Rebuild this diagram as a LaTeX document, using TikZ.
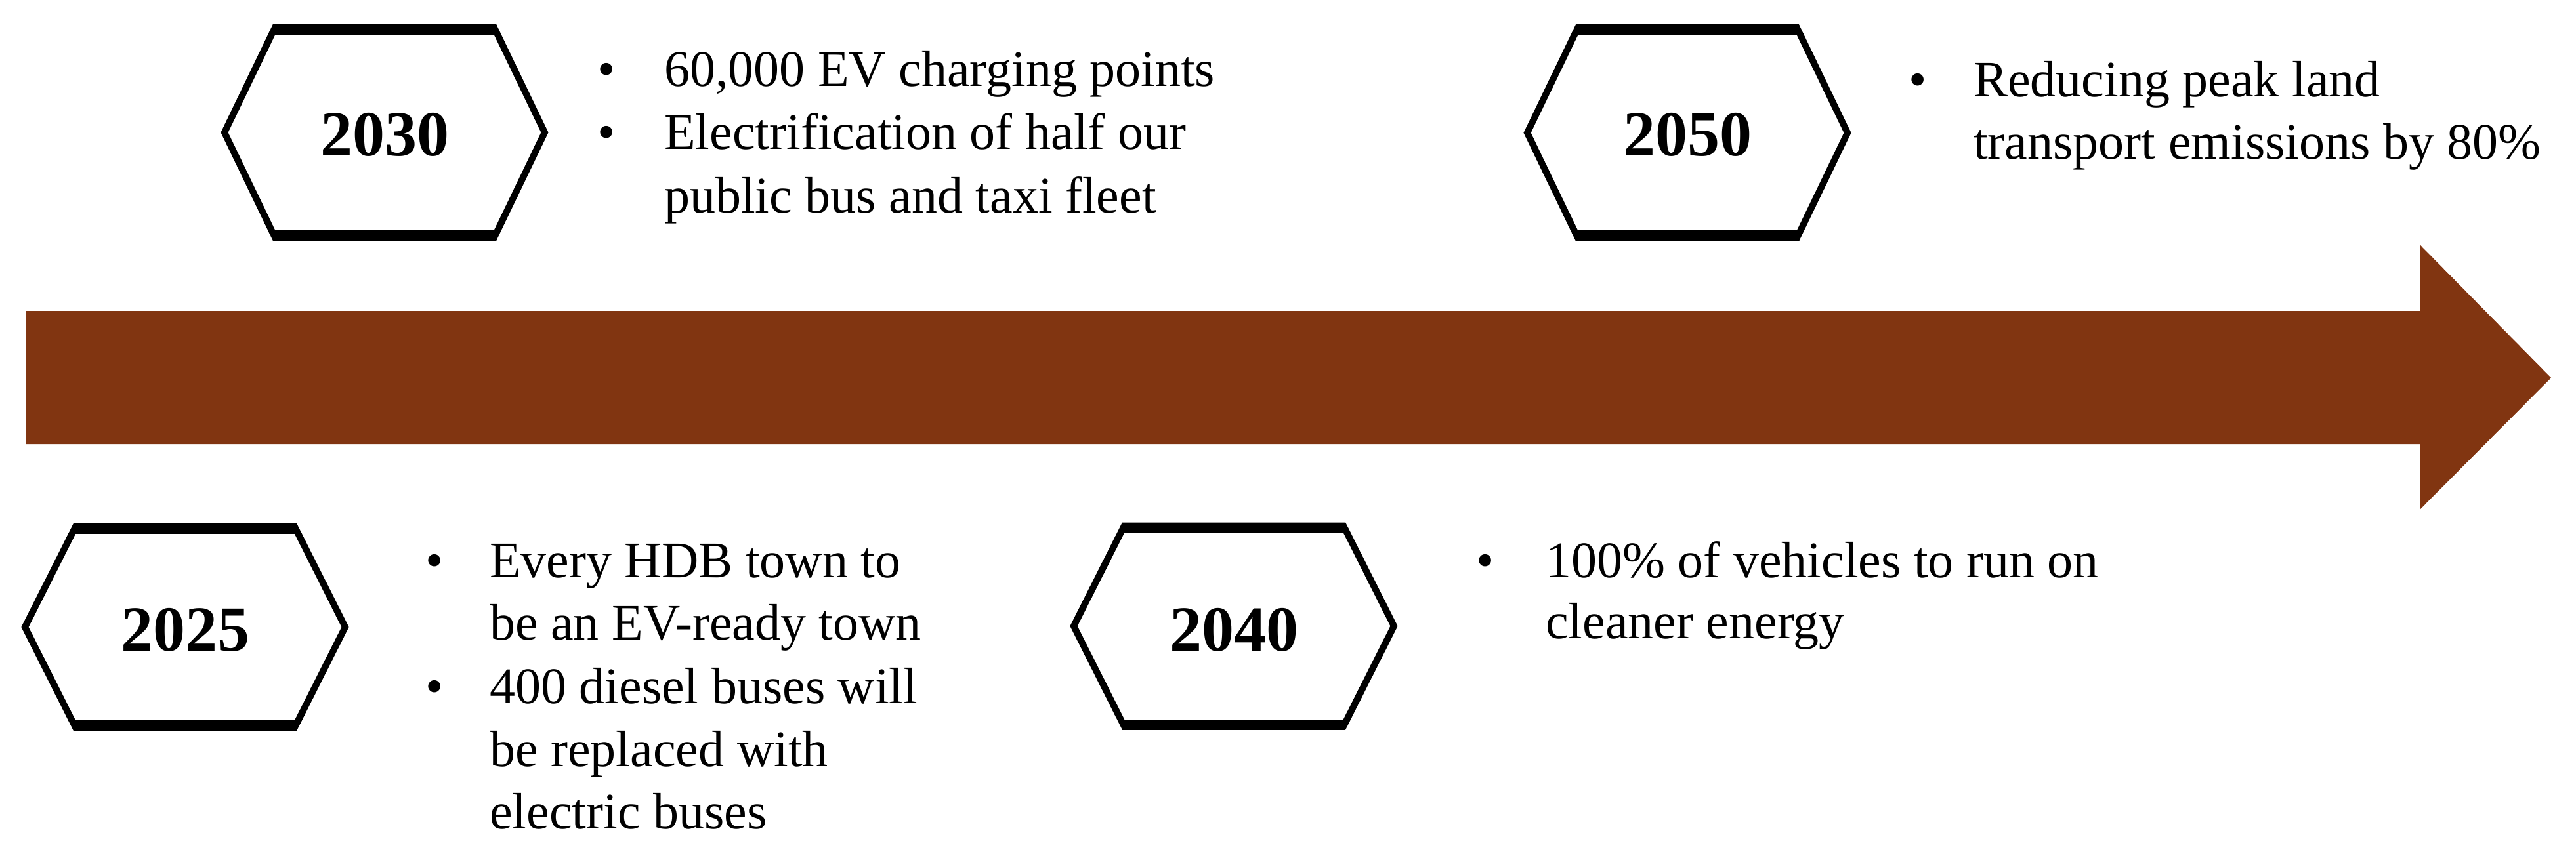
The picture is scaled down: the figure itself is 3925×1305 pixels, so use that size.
\documentclass[tikz,border=0pt]{standalone}
\usepackage{fontspec}
\setmainfont{Liberation Serif}
\definecolor{arrowbrown}{RGB}{129,53,17}
\tikzset{
  hexline/.style={draw=black, line width=10pt, line join=miter, fill=white},
  pics/hexa/.style={code={
    \draw[hexline] (-244,0) -- (-167,{-#1+5}) -- (167,{-#1+5}) -- (244,0)
      -- (167,{#1-5}) -- (-167,{#1-5}) -- cycle;
    \fill[black] (-170,-#1) rectangle (170,{-#1+16});
    \fill[black] (-170,#1) rectangle (170,{#1-16});
  }},
  year/.style={anchor=base, inner sep=0pt, font=\fontsize{98}{110}\selectfont\bfseries},
  txt/.style={anchor=base west, inner sep=0pt, font=\fontsize{78}{94}\selectfont},
  bul/.style={anchor=base, inner sep=0pt, font=\fontsize{78}{94}\selectfont}
}
\begin{document}
\begin{tikzpicture}[x=1pt, y=-1pt]
\useasboundingbox (0,0) rectangle (3925,1305);
% timeline arrow
\fill[arrowbrown] (40,474) -- (3687,474) -- (3687,373) -- (3887,576)
  -- (3687,777) -- (3687,677) -- (40,677) -- cycle;
% hexagons
\pic at (586,202) {hexa=165};
\pic at (2571,202.5) {hexa=165};
\pic at (282,956) {hexa=158};
\pic at (1880,954.5) {hexa=158};
% years
\node[year] (y2030) at (586,238) {2030};
\node[year] (y2050) at (2571,238) {2050};
\node[year] (y2025) at (282,992) {2025};
\node[year] (y2040) at (1880,992) {2040};
% 2030 block
\node[bul] (b30a) at (924,132) {•};
\node[txt] (t30a) at (1012,132) {60,000 EV charging points};
\node[bul] (b30b) at (924,228) {•};
\node[txt] (t30b) at (1012,228) {Electrification of half our};
\node[txt] (t30c) at (1012,325) {public bus and taxi fleet};
% 2050 block
\node[bul] (b50a) at (2922,148) {•};
\node[txt] (t50a) at (3007,148) {Reducing peak land};
\node[txt] (t50b) at (3007,243) {transport emissions by 80\%};
% 2025 block
\node[bul] (b25a) at (662,880) {•};
\node[txt] (t25a) at (746,880) {Every HDB town to};
\node[txt] (t25b) at (746,975) {be an EV-ready town};
\node[bul] (b25b) at (662,1072) {•};
\node[txt] (t25c) at (746,1072) {400 diesel buses will};
\node[txt] (t25d) at (746,1168) {be replaced with};
\node[txt] (t25e) at (746,1263) {electric buses};
% 2040 block
\node[bul] (b40a) at (2263,880) {•};
\node[txt] (t40a) at (2355,880) {100\% of vehicles to run on};
\node[txt] (t40b) at (2355,973) {cleaner energy};
\end{tikzpicture}
\end{document}
